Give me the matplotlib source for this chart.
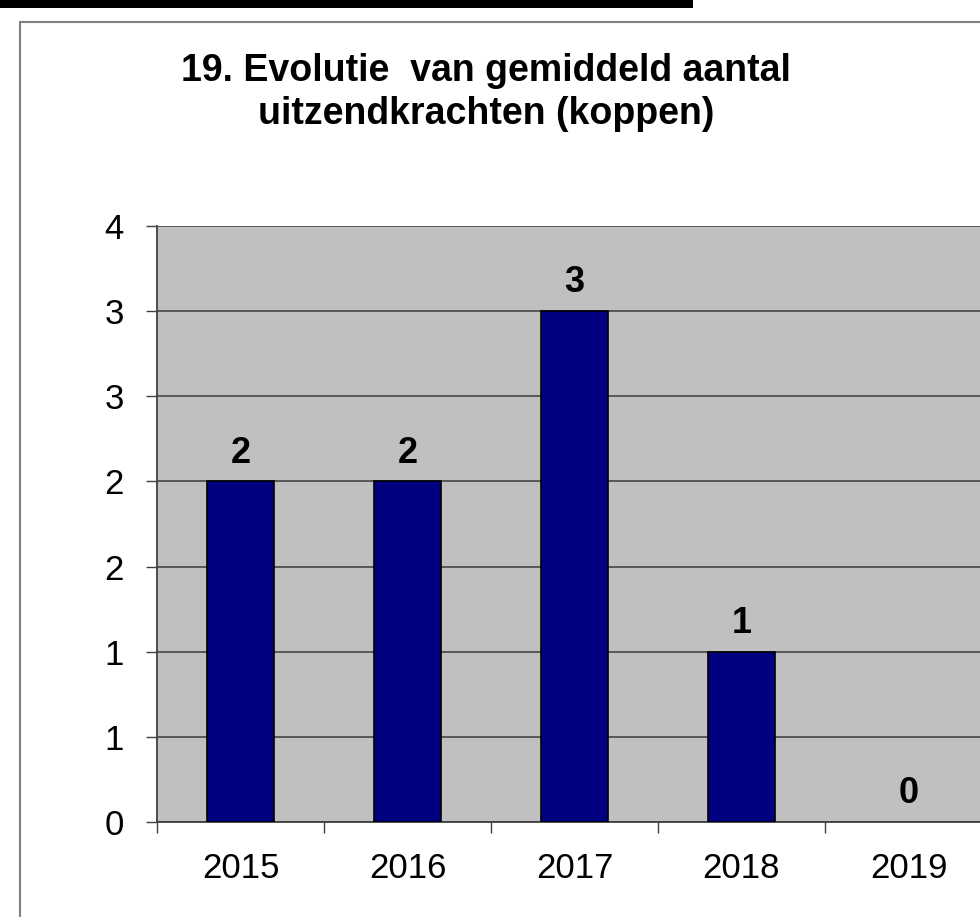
import math
import matplotlib
matplotlib.use("Agg")
import matplotlib.pyplot as plt
from matplotlib.patches import Rectangle
from matplotlib.ticker import FuncFormatter, MultipleLocator

years = ["2015", "2016", "2017", "2018", "2019"]
values = [2, 2, 3, 1, 0]
title_lines = ["19. Evolutie  van gemiddeld aantal", "uitzendkrachten (koppen)"]

plt.rcParams['font.family'] = ['Liberation Sans', 'DejaVu Sans']

W, H = 980, 917
fig = plt.figure(figsize=(W / 100, H / 100), dpi=100)
fig.patch.set_facecolor('white')

# black bar at top and chart-area border
fig.add_artist(Rectangle((0, 1 - 8 / H), 693 / W, 8 / H, transform=fig.transFigure,
                         facecolor='black', edgecolor='none'))
fig.add_artist(Rectangle((20 / W, -0.05), 1.2, 1 - 22 / H + 0.05, transform=fig.transFigure,
                         facecolor='none', edgecolor='#808080', linewidth=1.5))

left, right = 157, 992
top, bottom = 226, 822
ax = fig.add_axes([left / W, 1 - bottom / H, (right - left) / W, (bottom - top) / H])
ax.set_facecolor('#C0C0C0')

x = list(range(len(years)))
lws = [1.2 if v > 0 else 0 for v in values]
ax.bar(x, values, width=0.4, color='#000080', edgecolor='black', linewidth=lws, zorder=3)
for xi, v in zip(x, values):
    ax.annotate(str(v), (xi, v), xytext=(0, 13.5), textcoords='offset points',
                ha='center', va='baseline', fontsize=26, fontweight='bold', zorder=4)

ax.set_xlim(-0.5, len(years) - 0.5)
ax.set_ylim(0, 3.5)
ax.yaxis.set_major_locator(MultipleLocator(0.5))
ax.yaxis.set_major_formatter(FuncFormatter(lambda v, p: str(int(math.floor(v + 0.5)))))
ax.grid(axis='y', color='#505050', linewidth=1.3, zorder=1)
ax.set_axisbelow(True)

ax.set_xticks(x)
ax.set_xticklabels(years)
ax.set_xticks([i - 0.5 for i in range(len(years) + 1)], minor=True)
ax.tick_params(axis='x', which='major', length=0, pad=21.5, labelsize=25)
ax.tick_params(axis='x', which='minor', length=8, width=1, color='#404040', direction='out')
ax.tick_params(axis='y', length=8, width=1, color='#404040', pad=16, labelsize=25)

for s in ['top', 'right']:
    ax.spines[s].set_visible(False)
for s in ['left', 'bottom']:
    ax.spines[s].set_color('#404040')
    ax.spines[s].set_linewidth(1.3)

fig.text(486 / W, 1 - 81 / H, title_lines[0], ha='center', va='baseline', fontsize=27,
         fontweight='bold')
fig.text(486 / W, 1 - 124 / H, title_lines[1], ha='center', va='baseline', fontsize=27,
         fontweight='bold')

fig.savefig("out.png", dpi=100)
